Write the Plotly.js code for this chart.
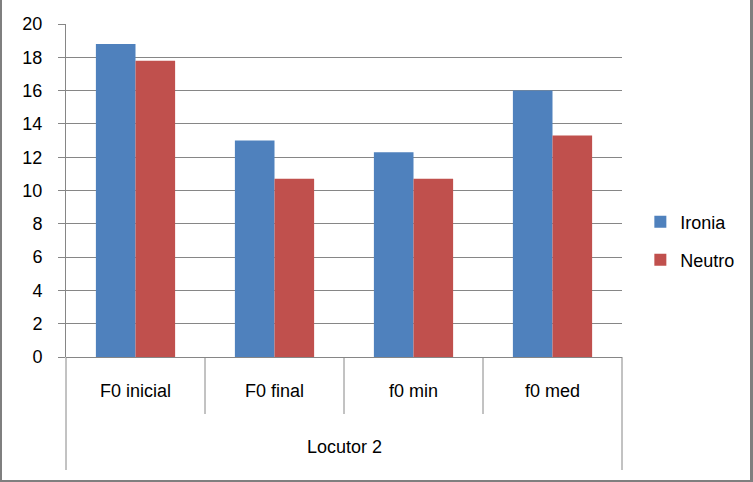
<!DOCTYPE html>
<html>
<head>
<meta charset="utf-8">
<script src="https://cdn.plot.ly/plotly-3.0.1.min.js"></script>
<style>
html,body{margin:0;padding:0;background:#fff;}
#wrap{width:753px;height:482px;box-sizing:border-box;border-left:2px solid #7f7f7f;border-right:3px solid #7f7f7f;border-bottom:2px solid #7f7f7f;overflow:hidden;}
#chart{width:748px;height:480px;}
</style>
</head>
<body>
<div id="wrap"><div id="chart"></div></div>
<script>
var categories = ["F0 inicial", "F0 final", "f0 min", "f0 med"];
var groupLabel = "Locutor 2";
var ironia = [18.8, 13.0, 12.3, 16.0];
var neutro = [17.8, 10.7, 10.7, 13.3];
var yTicks = [0, 2, 4, 6, 8, 10, 12, 14, 16, 18, 20];

var FONT = "Liberation Sans, Arial, sans-serif";
var FS = 18;
var GRID = "#868686";

var traces = [
  {type: "bar", name: "Ironia", x: categories, y: ironia, marker: {color: "#4F81BD"}, legend: "legend"},
  {type: "bar", name: "Neutro", x: categories, y: neutro, marker: {color: "#C0504D"}, legend: "legend2"}
];

var plotBottom = 357, plotTop = 24, plotH = plotBottom - plotTop;
function py(pix){ return (plotBottom - pix) / plotH; }

var shapes = [];
[0.25, 0.5, 0.75].forEach(function(p){
  shapes.push({type:"line", xref:"paper", yref:"paper", x0:p, x1:p, y0:0, y1:py(414), line:{color:GRID, width:1}});
});
[0, 1].forEach(function(p){
  shapes.push({type:"line", xref:"paper", yref:"paper", x0:p, x1:p, y0:0, y1:py(470), line:{color:GRID, width:1}});
});

var annotations = categories.map(function(c){
  return {xref:"x", yref:"paper", x:c, y:py(391), text:c, showarrow:false, yanchor:"middle", font:{family:FONT, size:FS, color:"#000"}};
});
annotations.push({xref:"paper", yref:"paper", x:0.5, y:py(447), text:groupLabel, showarrow:false, yanchor:"middle", font:{family:FONT, size:FS, color:"#000"}});

var layout = {
  width: 748, height: 480,
  margin: {l: 64, r: 128, t: 24, b: 123, autoexpand: false},
  paper_bgcolor: "#fff", plot_bgcolor: "#fff",
  barmode: "group", bargap: 0.43, bargroupgap: 0,
  font: {family: FONT, size: FS, color: "#000"},
  xaxis: {type: "category", showticklabels: false, ticks: "", showgrid: false, zeroline: false, showline: false, fixedrange: true},
  yaxis: {range: [0, 20], tickvals: yTicks, ticktext: yTicks.map(String), showgrid: true, gridcolor: GRID, gridwidth: 1,
          zeroline: true, zerolinecolor: GRID, zerolinewidth: 1,
          showline: true, linecolor: GRID, linewidth: 1, ticks: "outside", ticklen: 7, tickcolor: GRID,
          ticklabelstandoff: 12, tickfont: {family: FONT, size: FS, color: "#000"}},
  legend: {x: 1.033, y: py(222), xanchor: "left", yanchor: "middle", font: {family: FONT, size: FS, color: "#000"}, bgcolor: "rgba(0,0,0,0)", itemwidth: 30},
  legend2: {x: 1.033, y: py(260), xanchor: "left", yanchor: "middle", font: {family: FONT, size: FS, color: "#000"}, bgcolor: "rgba(0,0,0,0)", itemwidth: 30},
  showlegend: true,
  shapes: shapes,
  annotations: annotations
};

Plotly.newPlot("chart", traces, layout, {staticPlot: true, displayModeBar: false});
</script>
</body>
</html>
